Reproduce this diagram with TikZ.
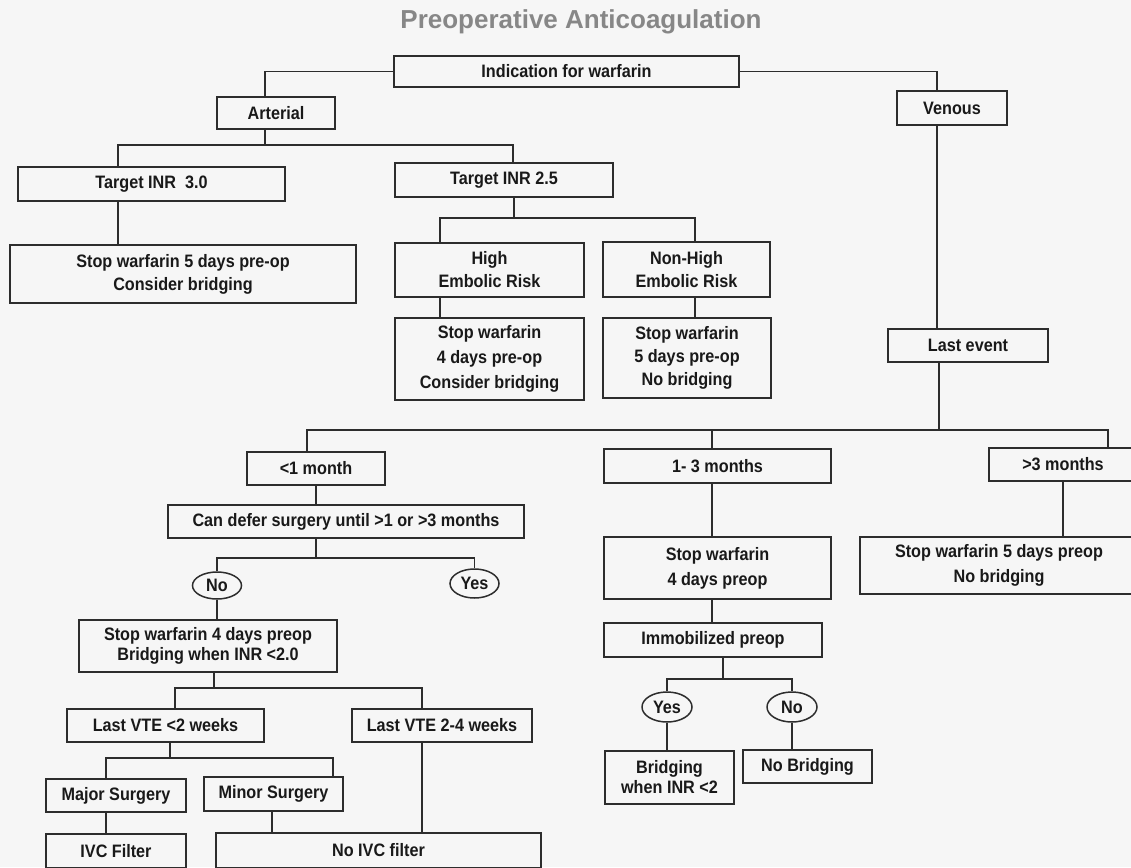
\documentclass[tikz,border=0pt]{standalone}
\usepackage{fontspec}
\setmainfont{Liberation Sans}[FakeStretch=0.9]
\newfontfamily\titlefont{Liberation Sans}
\usepackage{tikz}
\usetikzlibrary{shapes.geometric}

\definecolor{bggray}{RGB}{246,246,246}
\definecolor{linegray}{RGB}{45,45,45}
\definecolor{textgray}{RGB}{25,25,25}
\definecolor{titlegray}{RGB}{135,135,135}

\tikzset{
  box/.style={draw=linegray, line width=1.6pt, align=center, inner sep=0pt, text=textgray, font=\bfseries\fontsize{18}{23}\selectfont},
  boxsize/.style 2 args={minimum width=#1pt, minimum height=#2pt},
  yesno/.style={ellipse, draw=linegray, line width=1.5pt, inner sep=0pt, text=textgray, font=\bfseries\fontsize{18}{20}\selectfont},
  tight/.style={font=\bfseries\fontsize{18}{20}\selectfont},
  loose/.style={font=\bfseries\fontsize{18}{25}\selectfont},
  link/.style={draw=linegray, line width=1.6pt}
}

\begin{document}
\begin{tikzpicture}[x=1pt, y=-1pt]
	\useasboundingbox (0,0) rectangle (1131,867);
	\clip (0,0) rectangle (1131,867);
	\fill [bggray] (0,0) rectangle (1131,867);
	\node [text=titlegray, font=\titlefont\bfseries\fontsize{26}{30}\selectfont] (title) at (581,22) {Preoperative Anticoagulation};
	% top
	\node [box, boxsize={345}{31}] (ind) at (566.5,71.5) {Indication for warfarin};
	\node [box, boxsize={118}{32}] (art) at (276,113) {Arterial};
	\node [box, boxsize={110}{34}] (ven) at (952,108) {Venous};
	% arterial side
	\node [box, boxsize={267}{34}] (inr3) at (151.5,184) {Target INR\ \ 3.0};
	\node [box, boxsize={218}{34}] (inr25) at (504,180) {Target INR 2.5};
	\node [box, boxsize={346}{58}] (stopA) at (183,274) {Stop warfarin 5 days pre-op\\Consider bridging};
	\node [box, boxsize={189}{54}] (high) at (489.5,270) {High\\Embolic Risk};
	\node [box, boxsize={167}{55}] (nonhigh) at (686.5,269.5) {Non-High\\Embolic Risk};
	\node [box, loose, boxsize={189}{82}] (stopB) at (489.5,359) {Stop warfarin\\4 days pre-op\\Consider bridging};
	\node [box, boxsize={168}{80}] (stopC) at (687,358) {Stop warfarin\\5 days pre-op\\No bridging};
	% venous side
	\node [box, boxsize={160}{33}] (last) at (968,345.5) {Last event};
	\node [box, boxsize={138}{33}] (lt1) at (316,468.5) {<1 month};
	\node [box, boxsize={227}{34}] (m13) at (717.5,466) {1- 3 months};
	\node [box, boxsize={148}{33}] (gt3) at (1063,464.5) {>3 months};
	\node [box, boxsize={356}{33}] (defer) at (346,521.5) {Can defer surgery until >1 or >3 months};
	\node [yesno, minimum width=49pt, minimum height=27pt] (no1) at (217,585.5) {No};
	\node [yesno, minimum width=49pt, minimum height=29pt] (yes1) at (474.5,583.5) {Yes};
	\node [box, tight, boxsize={258}{52}] (stopD) at (208,646) {Stop warfarin 4 days preop\\Bridging when INR <2.0};
	\node [box, boxsize={197}{33}] (vte2) at (165.5,725.5) {Last VTE <2 weeks};
	\node [box, boxsize={180}{33}] (vte24) at (442,725.5) {Last VTE 2-4 weeks};
	\node [box, boxsize={140}{33}] (major) at (116,795.5) {Major Surgery};
	\node [box, boxsize={139}{34}] (minor) at (273.5,794) {Minor Surgery};
	\node [box, boxsize={140}{34}] (ivc) at (116,851) {IVC Filter};
	\node [box, boxsize={325}{35}] (noivc) at (378.5,850.5) {No IVC filter};
	\node [box, loose, boxsize={227}{62}] (stopE) at (717.5,568) {Stop warfarin\\4 days preop};
	\node [box, boxsize={218}{34}] (immob) at (713,640) {Immobilized preop};
	\node [yesno, minimum width=50pt, minimum height=30pt] (yes2) at (667,707) {Yes};
	\node [yesno, minimum width=50pt, minimum height=30pt] (no2) at (792,707) {No};
	\node [box, tight, boxsize={129}{53}] (bridge) at (669.5,777.5) {Bridging\\when INR <2};
	\node [box, boxsize={129}{33}] (nobridge) at (807.5,766.5) {No Bridging};
	\node [box, loose, boxsize={278}{57}] (stopF) at (999,565.5) {Stop warfarin 5 days preop\\No bridging};
	% bus bars
	\coordinate (b1) at (265,145);
	\coordinate (c1) at (118,145);
	\coordinate (b2) at (514,218);
	\coordinate (c2) at (440,218);
	\coordinate (c2r) at (695,218);
	\coordinate (cv) at (937,70);
	\coordinate (b3) at (939,430);
	\coordinate (c3l) at (307,430);
	\coordinate (c3m) at (712,430);
	\coordinate (c3r) at (1108,430);
	\coordinate (b4) at (316,558);
	\coordinate (b5) at (214,688);
	\coordinate (c5l) at (175,688);
	\coordinate (c5r) at (422,688);
	\coordinate (b6) at (170,758);
	\coordinate (c6l) at (106,758);
	\coordinate (c6r) at (333,758);
	\coordinate (c6m) at (272,758);
	\coordinate (b7) at (723,679);
	% connectors
	\draw [link] (ind.west) -| (art.north -| b1);
	\draw [link] (ind.east) -| (ven.north -| cv);
	\draw [link] (art.south -| b1) -- (b1);
	\draw [link] (inr3.north -| c1) |- (b1) -| ([xshift=9pt]inr25.north);
	\draw [link] (inr3.south -| c1) -- (stopA.north -| c1);
	\draw [link] (inr25.south -| b2) -- (b2);
	\draw [link] (high.north -| c2) |- (b2) -| (nonhigh.north -| c2r);
	\draw [link] (high.south -| c2) -- (stopB.north -| c2);
	\draw [link] (nonhigh.south -| c2r) -- (stopC.north -| c2r);
	\draw [link] (ven.south -| cv) -- (last.north -| cv);
	\draw [link] (last.south -| b3) -- (b3);
	\draw [link] (lt1.north -| c3l) |- (b3) -| (gt3.north -| c3r);
	\draw [link] (c3m) -- (m13.north -| c3m);
	\draw [link] (lt1.south) -- (defer.north -| lt1.south);
	\draw [link] (m13.south -| c3m) -- (stopE.north -| c3m);
	\draw [link] (stopE.south -| c3m) -- (immob.north -| c3m);
	\draw [link] (gt3.south) -- (stopF.north -| gt3.south);
	\draw [link] (defer.south -| b4) -- (b4);
	\draw [link] (no1.north) |- (b4) -| (yes1.north);
	\draw [link] (no1.south) -- (stopD.north -| no1.south);
	\draw [link] (stopD.south -| b5) -- (b5);
	\draw [link] (vte2.north -| c5l) |- (b5) -| (vte24.north -| c5r);
	\draw [link] (vte24.south -| c5r) -- (noivc.north -| c5r);
	\draw [link] (vte2.south -| b6) -- (b6);
	\draw [link] (major.north -| c6l) |- (b6) -| (minor.north -| c6r);
	\draw [link] (major.south -| c6l) -- (ivc.north -| c6l);
	\draw [link] (minor.south -| c6m) -- (noivc.north -| c6m);
	\draw [link] (immob.south -| b7) -- (b7);
	\draw [link] (yes2.north) |- (b7) -| (no2.north);
	\draw [link] (yes2.south) -- (bridge.north -| yes2.south);
	\draw [link] (no2.south) -- (nobridge.north -| no2.south);
\end{tikzpicture}
\end{document}
